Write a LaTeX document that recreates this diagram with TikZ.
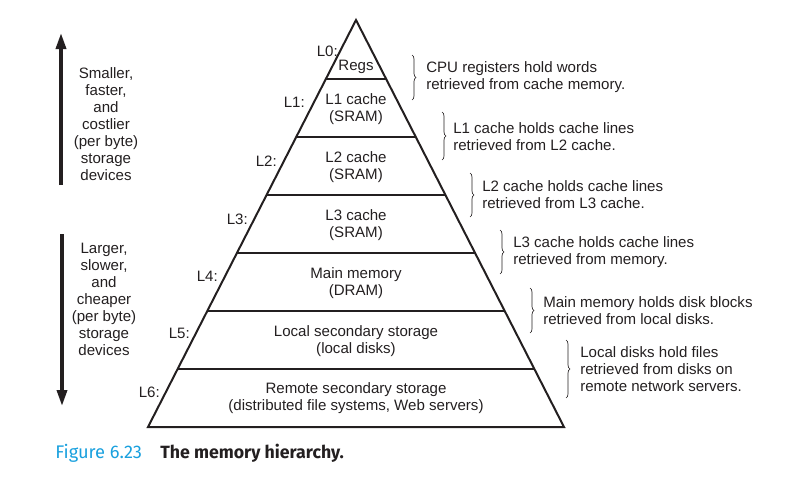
\documentclass[tikz,border=0pt]{standalone}
\usepackage{fontspec}
\setmainfont{Liberation Sans}
\newfontfamily\capfont{Fira Sans}
\usetikzlibrary{calc,arrows.meta,decorations.pathreplacing}
\definecolor{figBlue}{RGB}{25,160,222}
\definecolor{memInk}{RGB}{35,31,32}

\begin{document}
\begin{tikzpicture}[x=0.75pt,y=-0.75pt,
  every node/.style={text=memInk,inner sep=0pt},
  lvltext/.style={align=center,font=\fontsize{11.3}{13}\selectfont},
  lvltag/.style={anchor=east,font=\fontsize{11.3}{13}\selectfont},
  note/.style={anchor=west,align=left,font=\fontsize{11.3}{12.8}\selectfont},
  sidetext/.style={align=center,font=\fontsize{11.3}{12.8}\selectfont},
  bar/.style={memInk,line width=2.6pt,-{Triangle[length=12pt,width=7.5pt]}},
  cbrace/.style={memInk,decorate,decoration={brace,amplitude=3pt},line width=0.5pt},
  wall/.style={memInk,line width=1.5pt}]
\useasboundingbox (0,0) rectangle (793,482);
\coordinate (apex) at (356,20);
\coordinate (bl) at (148,427);
\coordinate (br) at (564,427);
\draw[wall,line join=miter] (apex) -- (bl) -- (br) -- cycle;
\draw[wall,line width=1.7pt] ($(apex)!0.145!(bl)$) -- ($(apex)!0.145!(br)$);
\draw[wall,line width=1.7pt] ($(apex)!0.2875!(bl)$) -- ($(apex)!0.2875!(br)$);
\draw[wall,line width=1.7pt] ($(apex)!0.43!(bl)$) -- ($(apex)!0.43!(br)$);
\draw[wall,line width=1.7pt] ($(apex)!0.5725!(bl)$) -- ($(apex)!0.5725!(br)$);
\draw[wall,line width=1.7pt] ($(apex)!0.715!(bl)$) -- ($(apex)!0.715!(br)$);
\draw[wall,line width=1.7pt] ($(apex)!0.8575!(bl)$) -- ($(apex)!0.8575!(br)$);

\node[lvltext] (regs) at (356,67) {Regs};
\node[lvltext] (lone) at (356,109) {L1 cache\\(SRAM)};
\node[lvltext] (ltwo) at (356,167) {L2 cache\\(SRAM)};
\node[lvltext] (lthree) at (356,225) {L3 cache\\(SRAM)};
\node[lvltext] (mainmem) at (356,283) {Main memory\\(DRAM)};
\node[lvltext] (localdisk) at (356,341) {Local secondary storage\\(local disks)};
\node[lvltext] (remote) at (356,398) {Remote secondary storage\\(distributed file systems, Web servers)};

\node[lvltag] (tag0) at (338,51) {L0:};
\node[lvltag] (tag1) at (305,102) {L1:};
\node[lvltag] (tag2) at (277,161) {L2:};
\node[lvltag] (tag3) at (248,219) {L3:};
\node[lvltag] (tag4) at (218,276) {L4:};
\node[lvltag] (tag5) at (190,333) {L5:};
\node[lvltag] (tag6) at (160,392) {L6:};

\coordinate (br0t) at (412,55);  \coordinate (br0b) at (412,100);
\coordinate (br1t) at (442,112); \coordinate (br1b) at (442,160);
\coordinate (br2t) at (470,173); \coordinate (br2b) at (470,217);
\coordinate (br3t) at (500,230); \coordinate (br3b) at (500,274);
\coordinate (br4t) at (530,288); \coordinate (br4b) at (530,333);
\coordinate (br5t) at (566,340); \coordinate (br5b) at (566,398);
\draw[cbrace] (br0t) -- (br0b);
\draw[cbrace] (br1t) -- (br1b);
\draw[cbrace] (br2t) -- (br2b);
\draw[cbrace] (br3t) -- (br3b);
\draw[cbrace] (br4t) -- (br4b);
\draw[cbrace] (br5t) -- (br5b);

\node[note] (note0) at (426,77.5) {CPU registers hold words\\retrieved from cache memory.};
\node[note] (note1) at (453,137) {L1 cache holds cache lines\\retrieved from L2 cache.};
\node[note] (note2) at (482,195) {L2 cache holds cache lines\\retrieved from L3 cache.};
\node[note] (note3) at (513,252.5) {L3 cache holds cache lines\\retrieved from memory.};
\node[note] (note4) at (543,311) {Main memory holds disk blocks\\retrieved from local disks.};
\node[note] (note5) at (580,369) {Local disks hold files\\retrieved from disks on\\remote network servers.};

\coordinate (upfoot) at (61,185);
\coordinate (uptip) at (61,33);
\coordinate (downtop) at (62,234);
\coordinate (downtip) at (62,406);
\draw[bar] (upfoot) -- (uptip);
\draw[bar] (downtop) -- (downtip);
\node[sidetext] (faster) at (106,124) {Smaller,\\faster,\\and\\costlier\\(per byte)\\storage\\devices};
\node[sidetext] (slower) at (104,299.5) {Larger,\\slower,\\and\\cheaper\\(per byte)\\storage\\devices};

\node[anchor=west,text=figBlue,font=\capfont\fontsize{13.7}{15}\selectfont] (fignum) at (55,453) {Figure 6.23};
\node[anchor=west,font=\capfont\bfseries\fontsize{13.3}{15}\selectfont] (figtitle) at (160,453) {The memory hierarchy.};
\end{tikzpicture}
\end{document}
